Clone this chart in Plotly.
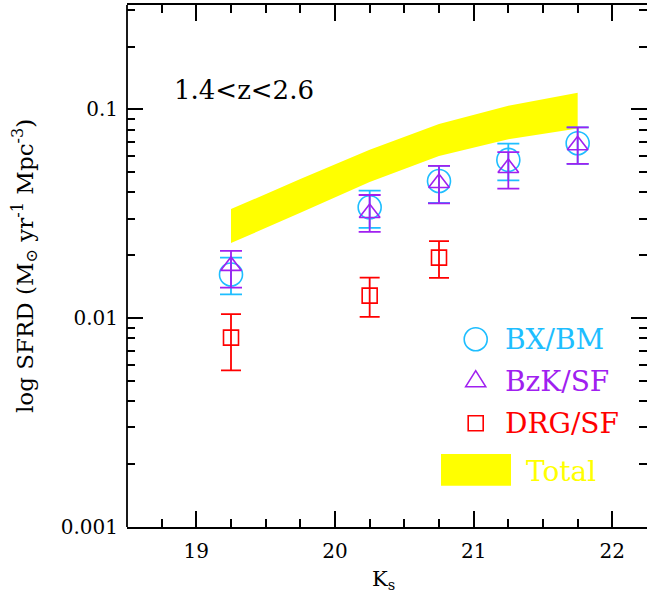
import plotly.graph_objects as go

# ---------------- data ----------------
x_pts = [19.25, 20.25, 20.75, 21.25, 21.75]

bx_y = [0.0162, 0.0340, 0.0454, 0.0573, 0.0689]
bx_hi = [0.0195, 0.0408, 0.0537, 0.0686, 0.0820]
bx_lo = [0.0130, 0.0271, 0.0357, 0.0457, 0.0548]

bzk_y = [0.0178, 0.0319, 0.0444, 0.0524, 0.0673]
bzk_hi = [0.0210, 0.0389, 0.0537, 0.0624, 0.0820]
bzk_lo = [0.0140, 0.0259, 0.0355, 0.0417, 0.0548]

drg_x = [19.25, 20.25, 20.75]
drg_y = [0.00807, 0.01283, 0.0195]
drg_hi = [0.01047, 0.01563, 0.0234]
drg_lo = [0.00562, 0.01014, 0.0156]

tot_x = [19.25, 19.75, 20.25, 20.75, 21.25, 21.75]
tot_hi = [0.0333, 0.0464, 0.0640, 0.0851, 0.1042, 0.120]
tot_lo = [0.0229, 0.0320, 0.0449, 0.0598, 0.0720, 0.0811]

y_tickvals = [0.001, 0.01, 0.1]
y_ticktext = ["0.001", "0.01", "0.1"]
x_tickvals = [19, 20, 21, 22]

CYAN = "#1EBEFF"
PURPLE = "#A020F0"
RED = "#FF0000"
YELLOW = "#FFFF00"
FONT = "DejaVu Serif"

W, H = 647, 593
L, R, T, B = 127, 0, 5, 66
PW, PH = W - L - R, H - T - B


def px(x):
    return (x - L) / PW


def py(y):
    return (H - B - y) / PH


fig = go.Figure()

# total band
fig.add_trace(go.Scatter(
    x=tot_x + tot_x[::-1], y=tot_hi + tot_lo[::-1],
    fill="toself", fillcolor=YELLOW, line=dict(width=0, color=YELLOW),
    mode="lines", hoverinfo="skip", showlegend=False))


def err(yv, hi, lo):
    return [h - v for h, v in zip(hi, yv)], [v - l for v, l in zip(yv, lo)]


p, m = err(bx_y, bx_hi, bx_lo)
fig.add_trace(go.Scatter(
    x=x_pts, y=bx_y, mode="markers",
    marker=dict(symbol="circle-open", size=23, color=CYAN, line=dict(width=1.6, color=CYAN)),
    error_y=dict(type="data", symmetric=False, array=p, arrayminus=m,
                 color=CYAN, thickness=1.8, width=11),
    showlegend=False))

p, m = err(bzk_y, bzk_hi, bzk_lo)
fig.add_trace(go.Scatter(
    x=x_pts, y=bzk_y, mode="markers",
    marker=dict(symbol="triangle-up-open", size=18, color=PURPLE, line=dict(width=1.6, color=PURPLE)),
    error_y=dict(type="data", symmetric=False, array=p, arrayminus=m,
                 color=PURPLE, thickness=1.8, width=11),
    showlegend=False))

p, m = err(drg_y, drg_hi, drg_lo)
fig.add_trace(go.Scatter(
    x=drg_x, y=drg_y, mode="markers",
    marker=dict(symbol="square-open", size=15, color=RED, line=dict(width=1.6, color=RED)),
    error_y=dict(type="data", symmetric=False, array=p, arrayminus=m,
                 color=RED, thickness=1.8, width=10),
    showlegend=False))

axis_common = dict(linecolor="black", linewidth=1.8, mirror="allticks",
                   ticks="inside", tickcolor="black", tickwidth=1.5, ticklen=16,
                   showgrid=False, zeroline=False,
                   tickfont=dict(family=FONT, size=20, color="black"))

fig.update_xaxes(range=[18.5, 22.25], tickvals=x_tickvals, ticklabelstandoff=5,
                 showline=True,
                 minor=dict(ticks="inside", ticklen=8, dtick=0.25, tick0=18.5,
                            tickcolor="black", tickwidth=1.5, showgrid=False),
                 **axis_common)
fig.update_yaxes(type="log", range=[-3, -0.5], tickvals=y_tickvals, ticktext=y_ticktext,
                 ticklabelstandoff=8, showline=False,
                 minor=dict(ticks="inside", ticklen=8, dtick="D1",
                            tickcolor="black", tickwidth=1.5, showgrid=False),
                 **axis_common)

shapes = [
    # left frame line (right side of the frame lies outside the picture)
    dict(type="line", xref="paper", yref="paper", x0=0, x1=0, y0=0, y1=1,
         line=dict(color="black", width=1.8), layer="above"),
    dict(type="circle", xref="paper", yref="paper",
         x0=px(464.2), x1=px(487.2), y0=py(350.8), y1=py(327.8),
         line=dict(color=CYAN, width=1.6)),
    dict(type="path", xref="paper", yref="paper",
         path=f"M {px(465.7)} {py(386.7)} L {px(485.7)} {py(386.7)} L {px(475.7)} {py(370.7)} Z",
         line=dict(color=PURPLE, width=1.6)),
    dict(type="rect", xref="paper", yref="paper",
         x0=px(468.2), x1=px(483.2), y0=py(430.8), y1=py(415.8),
         line=dict(color=RED, width=1.6)),
    dict(type="rect", xref="paper", yref="paper",
         x0=px(441), x1=px(511), y0=py(485.7), y1=py(454),
         fillcolor=YELLOW, line=dict(width=0)),
]

annotations = [
    dict(text="1.4&lt;z&lt;2.6", x=px(172), y=py(90), xanchor="left", yanchor="middle",
         font=dict(family=FONT, size=26, color="black")),
    dict(text="BX/BM", x=px(503), y=py(339), xanchor="left", yanchor="middle",
         font=dict(family=FONT, size=28, color=CYAN)),
    dict(text="BzK/SF", x=px(503), y=py(381), xanchor="left", yanchor="middle",
         font=dict(family=FONT, size=28, color=PURPLE)),
    dict(text="DRG/SF", x=px(503), y=py(423), xanchor="left", yanchor="middle",
         font=dict(family=FONT, size=28, color=RED)),
    dict(text="Total", x=px(524), y=py(471), xanchor="left", yanchor="middle",
         font=dict(family=FONT, size=28, color=YELLOW)),
    dict(text="log SFRD (M<sub>⊙</sub> yr<sup>-1</sup> Mpc<sup>-3</sup>)", x=px(24), y=py(266),
         textangle=-90, xanchor="center", yanchor="middle",
         font=dict(family=FONT, size=23, color="black")),
    dict(text="K<sub>s</sub>", x=px(383), y=py(580), xanchor="center", yanchor="middle",
         font=dict(family=FONT, size=21, color="black")),
]
for a in annotations:
    a.update(xref="paper", yref="paper", showarrow=False)

fig.update_layout(width=W, height=H, margin=dict(l=L, r=R, t=T, b=B),
                  paper_bgcolor="white", plot_bgcolor="white",
                  shapes=shapes, annotations=annotations, showlegend=False)

fig.write_html("out.html", config={"displayModeBar": False},
               post_script="document.body.style.margin='0';")
